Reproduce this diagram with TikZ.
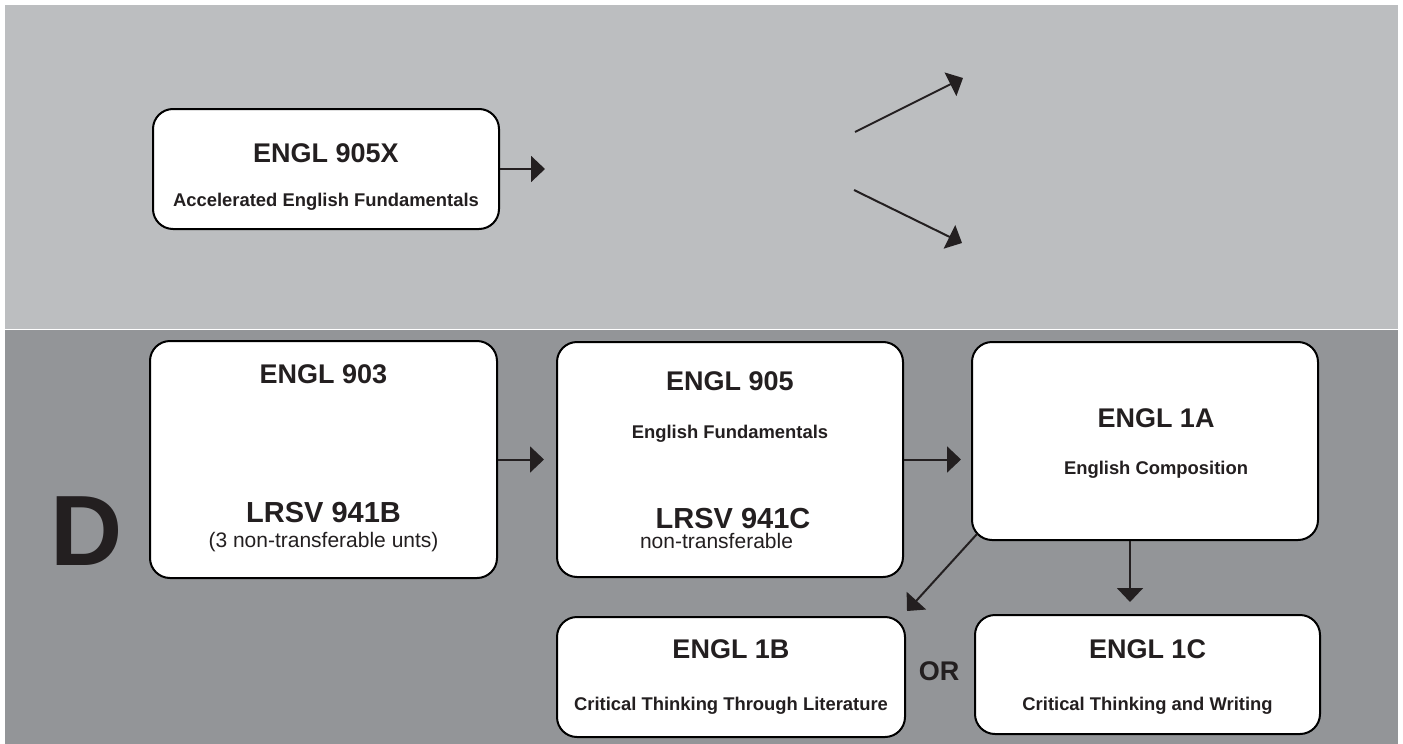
\documentclass[tikz,border=0pt]{standalone}
\usepackage{fontspec}
\setmainfont{Liberation Sans}
\usepackage{tikz}
\usetikzlibrary{arrows.meta,positioning,calc}
\definecolor{bandlight}{HTML}{BCBEC0}
\definecolor{banddark}{HTML}{939598}
\definecolor{ink}{HTML}{231F20}
\tikzset{
  course/.style={draw=black, line width=1pt, fill=white, rounded corners=10pt, inner sep=0pt},
  title/.style={anchor=base, inner sep=0pt, text=ink, font=\fontsize{13.5}{16}\selectfont\bfseries},
  codetitle/.style={anchor=base, inner sep=0pt, text=ink, font=\fontsize{14.5}{17}\selectfont\bfseries},
  subtitle/.style={anchor=base, inner sep=0pt, text=ink, font=\fontsize{9.2}{11}\selectfont\bfseries},
  note/.style={anchor=base, inner sep=0pt, text=ink, font=\fontsize{10.5}{12}\selectfont},
  arrow/.style={-{Triangle[length=7pt, width=13pt]}, line width=1pt, draw=ink},
}

\begin{document}
\begin{tikzpicture}[x=0.5pt,y=-0.5pt]
  \useasboundingbox (0,0) rectangle (1403,744);
  % bands
  \fill[bandlight] (5,5) rectangle (1398,328.5);
  \fill[banddark] (5,330) rectangle (1398,744);

  % upper band
  \node[course, minimum width=173pt, minimum height=60pt] (b905X) at (326,169) {};
  \node[title] (t905X) at (326,162) {ENGL 905X};
  \node[subtitle] (s905X) at (326,206) {Accelerated English Fundamentals};
  \coordinate (e905X) at (545,169);
  \draw[arrow] (b905X.east) -- (e905X);
  \coordinate (up0) at (855,132);
  \coordinate (up1) at (963,78);
  \coordinate (dn0) at (854,190);
  \coordinate (dn1) at (962,243);
  \draw[arrow] (up0) -- (up1);
  \draw[arrow] (dn0) -- (dn1);

  % lower band
  \node[anchor=base, inner sep=0pt, text=ink, font=\fontsize{50}{54}\selectfont\bfseries] (lvl) at (87,565) {D};

  \node[course, minimum width=173.5pt, minimum height=118.5pt] (b903) at (323.5,459.5) {};
  \node[title] (t903) at (323.5,383) {ENGL 903};
  \node[codetitle] (c903) at (323.5,522) {LRSV 941B};
  \node[note] (n903) at (323.5,547) {(3 non-transferable unts)};

  \node[course, minimum width=173pt, minimum height=117.5pt] (b905) at (730,459.5) {};
  \node[title] (t905) at (730,390) {ENGL 905};
  \node[subtitle] (s905) at (730,438) {English Fundamentals};
  \node[codetitle] (c905) at (733,528) {LRSV 941C};
  \node[note] (n905) at (716.5,548) {non-transferable};

  \node[course, minimum width=173pt, minimum height=99pt] (b1A) at (1145,441) {};
  \node[title] (t1A) at (1156,427) {ENGL 1A};
  \node[subtitle] (s1A) at (1156,474) {English Composition};

  \node[course, minimum width=174pt, minimum height=60pt] (b1B) at (731,677) {};
  \node[title] (t1B) at (731,658) {ENGL 1B};
  \node[subtitle] (s1B) at (731,710) {Critical Thinking Through Literature};

  \node[course, minimum width=172.5pt, minimum height=59.5pt] (b1C) at (1147.5,674.5) {};
  \node[title] (t1C) at (1147.5,658) {ENGL 1C};
  \node[subtitle] (s1C) at (1147.5,710) {Critical Thinking and Writing};

  \node[title] (or) at (939,680) {OR};

  \draw[arrow, shorten >=6pt] (b903.east) -- (b905.west);
  \draw[arrow, shorten >=5pt] (b905.east) -- (b905.east -| b1A.west);
  \coordinate (d1A) at ($(b1A.south)+(-15,0)$);
  \draw[arrow, shorten >=6pt] (d1A) -- (d1A |- b1C.north);
  \draw[arrow] ($(b1A.south west)+(6,-7)$) -- ($(b1B.north east)+(1,-5)$);
\end{tikzpicture}
\end{document}
